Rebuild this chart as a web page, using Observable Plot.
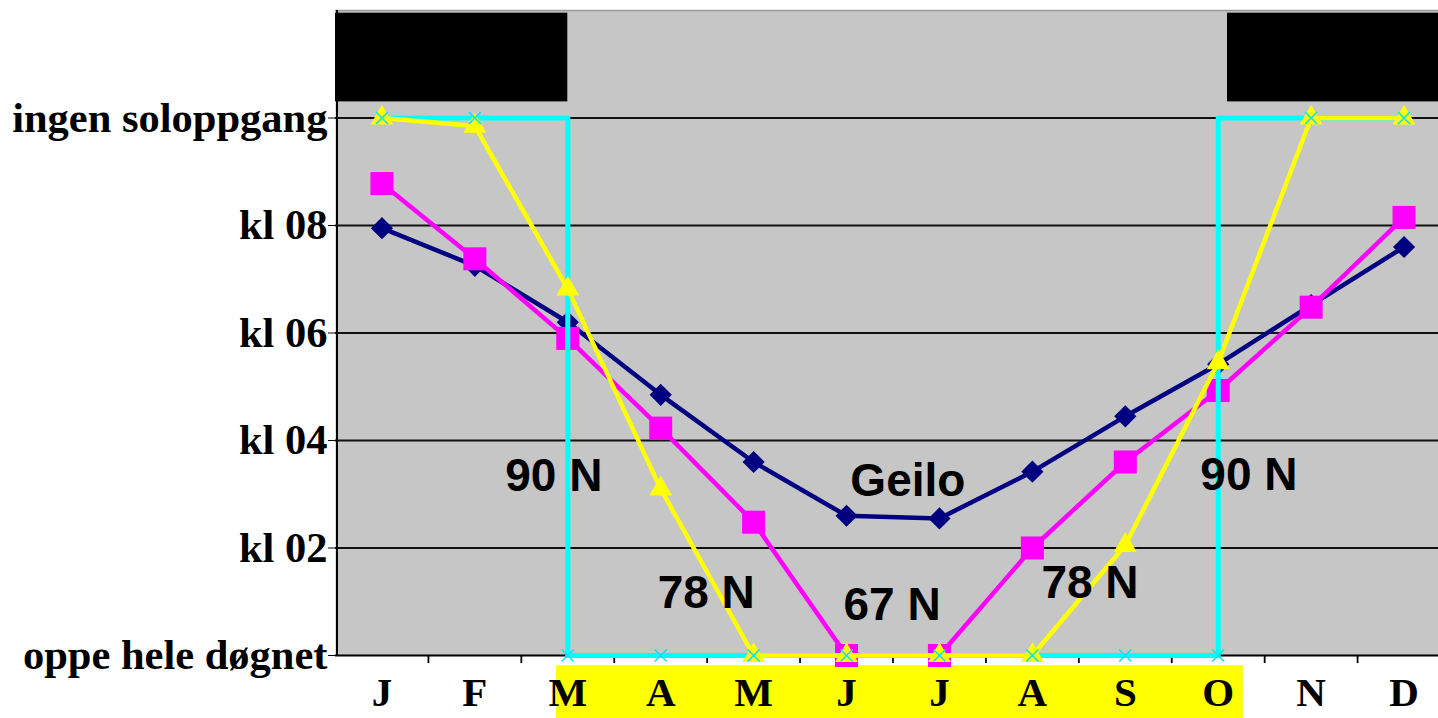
<!DOCTYPE html>
<html>
<head>
<meta charset="utf-8">
<script src="https://cdn.jsdelivr.net/npm/d3@7"></script>
<script src="https://cdn.jsdelivr.net/npm/@observablehq/plot@0.6"></script>
<style>
  html, body { margin: 0; padding: 0; background: #fff; overflow: hidden; }
  #chart svg { display: block; }
</style>
</head>
<body>
<div id="chart"></div>
<script>
// ---------- data ----------
const months = ["J","F","M","A","M","J","J","A","S","O","N","D"];
const geilo  = [7.95, 7.25, 6.2, 4.85, 3.6, 2.6, 2.55, 3.42, 4.45, 5.42, 6.52, 7.6];
const lat67  = [8.78, 7.38, 5.9, 4.23, 2.48, 0, 0, 2.0, 3.6, 4.93, 6.48, 8.15];
const lat78  = [10, 9.85, 6.82, 3.1, 0, 0, 0, 0, 2.05, 5.45, 10, 10];
const lat90  = [10, 10, 0, 0, 0, 0, 0, 0, 0, 0, 10, 10];

const yTicks      = [0, 2, 4, 6, 8, 10];
const yTickLabels = ["oppe hele døgnet", "kl 02", "kl 04", "kl 06", "kl 08", "ingen soloppgang"];
const gridValues  = [2, 4, 6, 8, 10];

// dark "no sunrise" bars at the top (month-index spans, value spans)
const darkFrom   = [-0.5, 9.1];
const darkTo     = [2.0, 11.6];
const darkBottom = [10.3, 10.3];
const darkTop    = [11.95, 11.95];

// yellow highlight behind month labels (midnight-sun months)
const highlightFrom = [1.88];
const highlightTo   = [9.27];

// annotations
const notes      = ["90 N", "78 N", "67 N", "Geilo", "78 N", "90 N"];
const noteMonth  = [1.85, 3.49, 5.49, 5.66, 7.62, 9.33];
const noteValue  = [3.34, 1.15, 0.93, 3.24, 1.34, 3.35];

// ---------- tables ----------
const rows = arr => arr.map((v, i) => ({i, v}));
const geiloRows = rows(geilo);
const lat67Rows = rows(lat67);
const lat78Rows = rows(lat78);
const lat90Rows = rows(lat90);

// 90 N path: vertical jumps sit on the month whose value is 0
const lat90Path = [];
lat90.forEach((v, i) => {
  if (i > 0 && v !== lat90[i - 1]) {
    if (v === 0) lat90Path.push({i, v: lat90[i - 1]});
    else lat90Path.push({i: i - 1, v});
  }
  lat90Path.push({i, v});
});

const darkRows = darkFrom.map((f, k) => ({from: f, to: darkTo[k], bottom: darkBottom[k], top: darkTop[k]}));
const highlightRows = highlightFrom.map((f, k) => ({from: f, to: highlightTo[k]}));
const noteRows = notes.map((t, k) => ({t, x: noteMonth[k], y: noteValue[k]}));
const tickPositions = d3.range(0.5, 11, 1);

const serif = "'Liberation Serif', 'Times New Roman', serif";
const sans = "'Liberation Sans', Arial, sans-serif";

const plot = Plot.plot({
  width: 1438,
  height: 718,
  marginLeft: 335,
  marginRight: 0,
  marginTop: 10,
  marginBottom: 63,
  style: {background: "#fff", color: "black"},
  x: {type: "linear", domain: [-0.5, 11.5], range: [335, 1450]},
  y: {type: "linear", domain: [0, 12]},
  marks: [
    Plot.frame({fill: "#c6c6c6", stroke: null}),
    Plot.ruleY([12], {stroke: "#9a9a9a", strokeWidth: 1.5}),
    Plot.rect(darkRows, {x1: "from", x2: "to", y1: "bottom", y2: "top", fill: "black"}),
    Plot.ruleY(gridValues, {stroke: "#111", strokeWidth: 1.8}),
    Plot.rect(highlightRows, {x1: "from", x2: "to", y1: -0.19, y2: -1.3, fill: "#ffff00"}),
    Plot.ruleY([0], {stroke: "black", strokeWidth: 2.2}),
    Plot.ruleX([-0.5], {stroke: "black", strokeWidth: 2, dx: 1.5}),
    Plot.ruleX(tickPositions, {y1: 0, y2: -0.15, stroke: "black", strokeWidth: 1.8}),
    Plot.axisY(yTicks, {
      tickFormat: d => yTickLabels[yTicks.indexOf(d)],
      tickSize: 7, tickPadding: 1, label: null,
      fontSize: 42.5, fontFamily: serif, fontWeight: "bold", fill: "black", stroke: "black"
    }),
    Plot.axisX(d3.range(12), {
      tickFormat: i => months[i],
      tickSize: 0, tickPadding: 21, label: null,
      fontSize: 41, fontFamily: serif, fontWeight: "bold", fill: "black"
    }),
    // Geilo
    Plot.line(geiloRows, {x: "i", y: "v", stroke: "#000080", strokeWidth: 4.5}),
    Plot.dot(geiloRows, {x: "i", y: "v", symbol: "diamond2", r: 10, fill: "#000080"}),
    // 67 N
    Plot.line(lat67Rows, {x: "i", y: "v", stroke: "#ff00ff", strokeWidth: 4.5}),
    Plot.dot(lat67Rows, {x: "i", y: "v", symbol: "square", r: 13, fill: "#ff00ff"}),
    // 90 N line
    Plot.line(lat90Path, {x: "i", y: "v", stroke: "#00ffff", strokeWidth: 5}),
    // 78 N
    Plot.line(lat78Rows, {x: "i", y: "v", stroke: "#ffff00", strokeWidth: 4.5}),
    Plot.dot(lat78Rows, {x: "i", y: "v", symbol: "triangle", r: 8.5, fill: "#ffff00"}),
    // 90 N markers
    Plot.dot(lat90Rows, {x: "i", y: "v", symbol: "times", r: 5.5, stroke: "#00e5ee", strokeWidth: 1.5}),
    // annotations
    Plot.text(noteRows, {x: "x", y: "y", text: "t", fontSize: 46, fontWeight: "bold", fontFamily: sans, fill: "black"})
  ]
});
document.getElementById("chart").appendChild(plot);
</script>
</body>
</html>
